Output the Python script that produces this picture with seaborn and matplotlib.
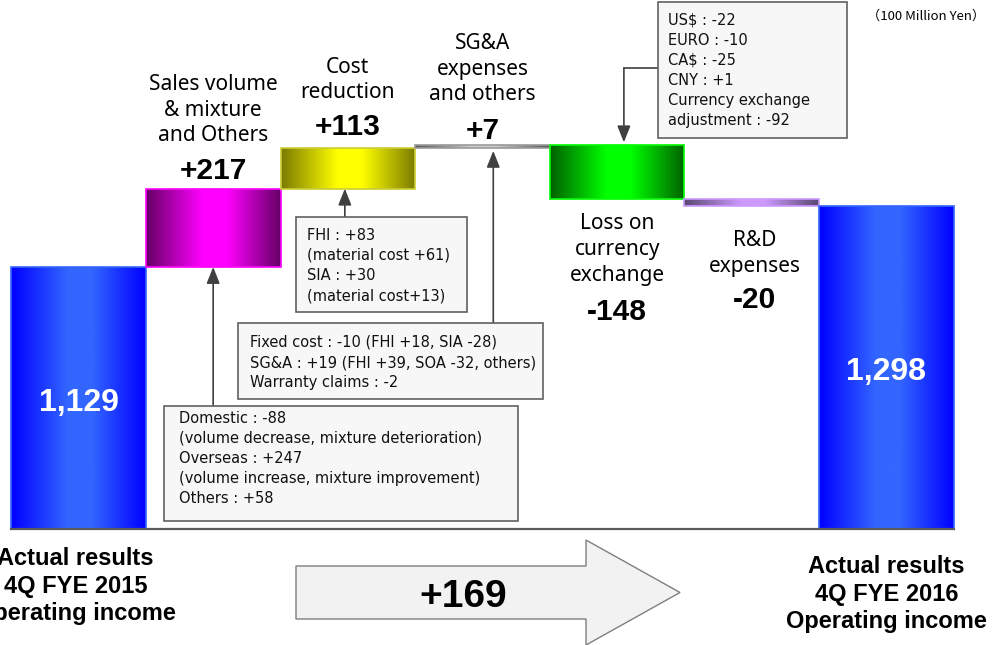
#!/usr/bin/env python3
# waterfall: 4Q FYE 2015 -> 4Q FYE 2016 operating income bridge
import numpy as np
import pandas as pd
import matplotlib
matplotlib.use("Agg")
import matplotlib.pyplot as plt
import seaborn as sns
from matplotlib.colors import LinearSegmentedColormap
from matplotlib.patches import Rectangle, Polygon

# ---- data (100 Million Yen) ----
steps = ["FYE2015", "Sales", "Cost", "SGA", "FX", "RD", "FYE2016"]
start_value = 1129
deltas = [217, 113, 7, -148, -20]
end_value = 1298
total_change = "+169"

step_titles = ["Sales volume\n& mixture\nand Others", "Cost\nreduction",
               "SG&A\nexpenses\nand others", "Loss on\ncurrency\nexchange",
               "R&D\nexpenses"]
total_titles = ["Actual results\n4Q FYE 2015\nOperating income",
                "Actual results\n4Q FYE 2016\nOperating income"]

sales_notes = ["Domestic : -88", "(volume decrease, mixture deterioration)",
               "Overseas : +247", "(volume increase, mixture improvement)",
               "Others : +58"]
cost_notes = ["FHI : +83", "(material cost +61)", "SIA : +30", "(material cost+13)"]
sga_notes = ["Fixed cost : -10 (FHI +18, SIA -28)",
             "SG&A : +19 (FHI +39, SOA -32, others)",
             "Warranty claims : -2"]
fx_notes = ["US$ : -22", "EURO : -10", "CA$ : -25", "CNY : +1",
            "Currency exchange", "adjustment : -92"]

# waterfall geometry from the values
cum = start_value + np.cumsum(deltas)
heights = [start_value] + deltas + [end_value]
bottoms = [0] + [start_value] + list(cum[:-1]) + [0]
df = pd.DataFrame({"step": steps, "value": heights})

# gradient styles (edge dark, centre bright, outline)
bar_styles = [("#0000FF", "#3366FF", "#3366FF"),
              ("#660066", "#FF00FF", "#FF00FF"),
              ("#7A7A00", "#FFFF00", "#CCCC33"),
              ("#555555", "#CFCFCF", "#9A9A9A"),
              ("#006000", "#00FF00", "#00FF00"),
              ("#5A4870", "#CC99FF", "#CC99FF"),
              ("#0000FF", "#3366FF", "#3366FF")]

W, H = 993, 645
sns.set_style("white")
plt.rcParams["font.family"] = ["Noto Sans", "DejaVu Sans"]
plt.rcParams["text.color"] = "black"
BOLD = ["Liberation Sans", "DejaVu Sans"]

fig = plt.figure(figsize=(W / 100, H / 100), dpi=100)
ax = fig.add_axes([0, (H - 529) / H, 1, 529 / H])

sns.barplot(data=df, x="step", y="value", bottom=bottoms, width=1.0,
            errorbar=None, color="#3366FF", ax=ax)

for patch, (dark, bright, edge) in zip(ax.patches, bar_styles):
    cmap = LinearSegmentedColormap.from_list(
        "g", [(0, dark), (0.42, bright), (0.6, bright), (1, dark)])
    bb = patch.get_bbox()
    im = ax.imshow(np.linspace(0, 1, 256)[None, :], cmap=cmap, aspect="auto",
                   extent=[bb.x0, bb.x1, min(bb.y0, bb.y1), max(bb.y0, bb.y1)],
                   origin="lower", zorder=2)
    # path clip keeps the axes clip box as well
    im.set_clip_path(patch.get_path(), patch.get_transform())
    patch.set_facecolor("none")
    patch.set_edgecolor(edge)
    patch.set_linewidth(1.2)
    patch.set_zorder(3)

ax.set_xlim(-0.583, 6.791)
ax.set_ylim(403.2, 1868.6)
ax.set_xlabel("")
ax.set_ylabel("")
ax.tick_params(length=0, labelbottom=False, labelleft=False)
sns.despine(ax=ax, left=True)
ax.spines["bottom"].set_bounds(-0.5, 6.5)
ax.spines["bottom"].set_color("#5A5A5A")
ax.spines["bottom"].set_linewidth(1.6)
ax.spines["bottom"].set_zorder(4)


def to_px(x, y):
    dx, dy = ax.transData.transform((x, y))
    return dx, H - dy


# overlay in pixel units for labels and callouts
ov = fig.add_axes([0, 0, 1, 1])
ov.set_xlim(0, W)
ov.set_ylim(H, 0)
ov.axis("off")

num_kw = dict(ha="center", va="baseline", fontsize=21.5, fontweight="bold",
              family=BOLD)
lab_kw = dict(ha="center", va="center", fontsize=15, linespacing=1.3,
              family=["Noto Sans", "DejaVu Sans"])

# step titles and values
title_y = [110, 80, 69, 249.5, 253.5]
num_y = [179, 135, 139, 320, 308]
title_dx = [0, 0, 0, 0, 3]
for i, d in enumerate(deltas):
    cx = to_px(i + 1, 0)[0]
    ov.text(cx + title_dx[i], title_y[i], step_titles[i], **lab_kw)
    ov.text(cx + title_dx[i], num_y[i], f"{d:+d}", **num_kw)

# totals inside bars
for i, (v, by) in zip([0, 6], [(start_value, 411), (end_value, 380)]):
    cx = to_px(i, 0)[0]
    ov.text(cx, by, f"{v:,}", color="white", ha="center", va="baseline",
            fontsize=23, fontweight="bold", family=BOLD)

ov.text(to_px(0, 0)[0] - 3, 586, total_titles[0], ha="center", va="center",
        fontsize=17, fontweight="bold", linespacing=1.23, family=BOLD)
ov.text(to_px(6, 0)[0], 594, total_titles[1], ha="center", va="center",
        fontsize=17, fontweight="bold", linespacing=1.23, family=BOLD)

ov.text(926, 16, "（100 Million Yen）", ha="center", va="center", fontsize=9.5,
        family=["Noto Sans CJK JP", "DejaVu Sans"])

# big arrow with total change
arrow_pts = [(296, 566), (586, 566), (586, 540), (680, 592.5),
             (586, 645), (586, 619), (296, 619)]
ov.add_patch(Polygon(arrow_pts, closed=True, facecolor="#F2F2F2",
                     edgecolor="#7F7F7F", lw=1.0))
ov.text(463, 607, total_change, ha="center", va="baseline", fontsize=28,
        fontweight="bold", family=BOLD)

# callout boxes
box_kw = dict(facecolor="#F7F7F7", edgecolor="#606060", lw=1.2, zorder=5)
txt_kw = dict(ha="left", va="center", fontsize=10.5, linespacing=1.43,
              family="DejaVu Sans", zorder=6, color="#111111")
arr_kw = dict(arrowstyle="-|>,head_length=1.0,head_width=0.4", color="#404040",
              lw=1.2, mutation_scale=10, shrinkA=0, shrinkB=0)

boxes = [((164, 406, 354, 115), (179, 458.5), sales_notes),
         ((238, 323, 305, 76), (250, 362.5), sga_notes),
         ((296, 217, 171, 95), (307, 265.5), cost_notes),
         ((658, 2, 189, 136), (668, 70.5), fx_notes)]
for (bx, by, bw, bh), (tx, ty), lines in boxes:
    ov.add_patch(Rectangle((bx, by), bw, bh, **box_kw))
    ov.text(tx, ty, "\n".join(lines), **txt_kw)

# arrows from boxes to bars
x1, y1 = to_px(1, bottoms[1])
ov.annotate("", xy=(x1, y1), xytext=(x1, 406), arrowprops=arr_kw)
x2, y2 = to_px(2, bottoms[2])
ov.annotate("", xy=(x2 - 3, y2), xytext=(x2 - 3, 217), arrowprops=arr_kw)
x3, y3 = to_px(3.08, bottoms[3])
ov.annotate("", xy=(x3, y3 + 3), xytext=(x3, 323), arrowprops=arr_kw)
x4, y4 = to_px(4.05, bottoms[4])
ov.plot([658, x4], [68, 68], color="#404040", lw=1.2)
ov.annotate("", xy=(x4, y4 - 3), xytext=(x4, 68), arrowprops=arr_kw)

fig.savefig("out.png", dpi=100)
